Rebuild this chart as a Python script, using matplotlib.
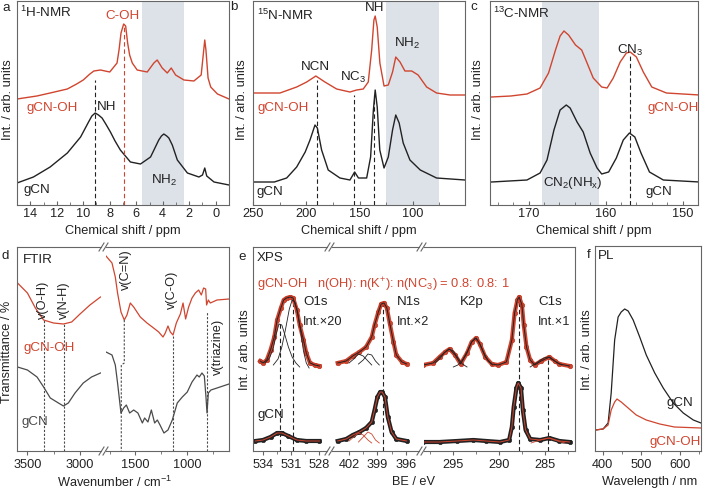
import matplotlib
matplotlib.use("Agg")
import matplotlib.pyplot as plt
from matplotlib.lines import Line2D
from matplotlib.ticker import MultipleLocator, FixedLocator

plt.rcParams['font.family'] = ['Liberation Sans', 'DejaVu Sans']
plt.rcParams['mathtext.fontset'] = 'custom'
plt.rcParams['mathtext.rm'] = 'Liberation Sans'
plt.rcParams['mathtext.it'] = 'Liberation Sans:italic'
plt.rcParams['font.size'] = 9.2

# ---------------- data ----------------
# (a) 1H NMR
a_ppm_oh = [15, 13.5, 12.5, 11.2, 10.5, 10.0, 9.5, 9.2, 8.7, 8.0, 7.45, 7.3, 7.15, 6.95, 6.8, 6.65, 6.5, 6.3,
            5.93, 5.17, 4.67, 4.42, 4.04, 3.66, 3.36, 3.03, 2.4, 1.65, 1.1, 0.93, 0.83, 0.74, 0.58, 0.38,
            -0.13, -1.0]
a_int_oh = [106, 109, 112, 116, 121, 125, 131, 134, 135, 133, 142, 155, 172, 181, 179, 162, 150, 142,
            135, 133, 142, 145, 137, 132, 137, 130, 125, 124, 130, 152, 165, 155, 127, 118,
            111, 106]
a_ppm_gcn = [15, 13.76, 12.5, 11.2, 10.2, 9.8, 9.6, 9.35, 9.1, 8.85, 8.58, 8.3, 7.95, 7.6, 7.2, 6.44, 5.68,
             4.92, 4.3, 4.1, 3.92, 3.7, 3.54, 3.28, 2.9, 2.14, 1.27, 1.0, 0.83, 0.68, 0.13, -1.0]
a_int_gcn = [22, 28, 38, 52, 68, 78, 83, 89, 92, 90, 87, 81, 73, 64, 55, 43, 41,
             48, 65, 69, 71, 69, 67, 60, 45, 32, 28, 30, 37, 29, 23, 20]
a_peaks = [9.1, 6.95]

# (b) 15N NMR
b_ppm_oh = [250, 224.7, 209, 199.6, 191, 182.5, 171.5, 159, 152.7, 146.5, 141.8, 138.6, 136.5, 135.3,
            133.4, 130.9, 127, 123, 119, 116, 112, 107.4, 101, 95, 87, 77.7, 65, 51]
b_int_oh = [112, 112, 118, 123, 129, 123, 116, 113, 115, 116, 123, 155, 185, 189,
            178, 142, 119, 120, 133, 148, 143, 134, 134, 130, 118, 112, 110, 110]
b_ppm_gcn = [250, 230, 218.4, 209, 201, 196.5, 191.8, 189.6, 185.6, 179.4, 168.4, 159, 154.6, 151, 143.3,
             139.6, 137, 135.3, 133.4, 131, 127, 123, 119, 116, 112.8, 109, 102.7, 93, 77.7, 51]
b_int_gcn = [23, 23, 27, 38, 53, 65, 80, 77, 55, 35, 27, 25, 33, 27, 27,
             48, 95, 115, 98, 55, 37, 48, 75, 90, 82, 62, 45, 35, 27, 25]
b_peaks = [190, 155, 136]

# (c) 13C NMR
c_ppm_oh = [174.8, 172.3, 170.2, 168.5, 167.4, 166.5, 165.9, 165.4, 164.8, 163.9, 163.1, 162.4, 161.6,
            160.5, 159.8, 159, 158.1, 157.3, 156.8, 156, 155.1, 154, 152.1, 147.8]
c_int_oh = [108, 109, 111, 117, 132, 155, 169, 174, 170, 160, 155, 142, 127,
            118, 117, 127, 143, 152, 153, 148, 133, 118, 112, 110]
c_ppm_gcn = [174.8, 170.2, 168.5, 167.6, 166.7, 165.9, 165.1, 164.6, 163.7, 162.9, 162, 161.1, 160.5,
             159.6, 158.6, 157.7, 156.9, 156.2, 155.4, 154.3, 152.5, 147.8]
c_int_gcn = [23, 25, 32, 45, 75, 95, 100, 97, 83, 73, 52, 37, 31,
             33, 47, 65, 72, 68, 52, 33, 25, 23]
c_peak = 156.8

# (d) FTIR
d_wn_l_oh = [3595, 3500, 3424, 3345, 3250, 3155, 3076, 2996, 2901, 2800]
d_tr_l_oh = [168, 158, 143, 131, 128, 127, 129, 137, 146, 154]
d_wn_l_gcn = [3595, 3500, 3408, 3345, 3281, 3203, 3155, 3108, 3044, 2965, 2886, 2800]
d_tr_l_gcn = [84, 81, 74, 64, 53, 48, 45, 48, 58, 68, 74, 78]
d_wn_r_oh = [1784, 1726, 1694, 1672, 1639, 1607, 1581, 1549, 1516, 1452, 1387, 1323, 1274, 1232, 1210,
             1184, 1161, 1135, 1103, 1064, 1038, 1013, 984, 951, 919, 887, 861, 839, 819, 810, 793,
             774, 709, 593]
d_tr_r_oh = [195, 188, 174, 158, 139, 131, 136, 148, 144, 134, 128, 123, 119, 114, 118,
             125, 119, 116, 128, 137, 148, 132, 144, 153, 158, 161, 156, 163, 162, 146, 151,
             148, 151, 152]
d_wn_r_gcn = [1784, 1726, 1694, 1672, 1639, 1613, 1587, 1555, 1516, 1475, 1432, 1410, 1378, 1345, 1313,
              1287, 1261, 1223, 1184, 1142, 1094, 1045, 997, 951, 903, 881, 855, 832, 816, 806, 793,
              768, 709, 593]
d_tr_r_gcn = [99, 96, 86, 68, 38, 43, 46, 38, 41, 38, 28, 33, 29, 41, 28,
              31, 26, 18, 21, 31, 48, 54, 59, 69, 76, 74, 78, 75, 54, 38, 58,
              61, 63, 67]
d_modes_l = [3345, 3150]
d_modes_r = [1140, 808]

# (e) XPS
e_o1s_be_oh = [534.3, 534.0, 533.6, 533.2, 532.8, 532.5, 532.1, 531.8, 531.5, 531.1, 530.8, 530.4,
               530.1, 529.7, 529.4, 529.0, 528.5, 528.0]
e_o1s_oh = [90, 88, 91, 101, 114, 131, 143, 151, 153, 154, 153, 141, 126, 111, 98, 88, 86, 85]
e_o1s_c1_be = [533.8, 533.3, 532.9, 532.6, 532.3, 532.0, 531.7, 531.3, 530.9, 530.5, 530.1]
e_o1s_c1 = [88, 93, 103, 117, 127, 126, 117, 104, 94, 88, 84]
e_o1s_c2_be = [532.9, 532.4, 532.0, 531.6, 531.2, 530.9, 530.6, 530.3, 530.0, 529.7, 529.4, 529.1]
e_o1s_c2 = [86, 92, 104, 122, 142, 151, 149, 138, 120, 100, 88, 83]
e_o1s_be_gcn = [534.8, 534.0, 533.2, 532.5, 532.0, 531.3, 530.4, 529.4, 528.0]
e_o1s_gcn = [10, 11, 14, 18, 18, 15, 11, 10, 10]

e_n1s_be_oh = [403.2, 402.3, 401.6, 400.9, 400.2, 399.6, 399.3, 398.9, 398.6, 398.3, 398.0, 397.7,
               397.3, 397.0, 396.4, 395.9]
e_n1s_oh = [88, 90, 95, 99, 104, 114, 126, 139, 147, 148, 143, 128, 109, 96, 89, 87]
e_n1s_ca_be = [402.0, 401.5, 401.0, 400.5, 400.0, 399.6]
e_n1s_ca_oh = [88, 92, 97, 95, 90, 86]
e_n1s_cb_be = [401.0, 400.5, 400.0, 399.6, 399.2, 398.8]
e_n1s_cb_oh = [87, 91, 97, 96, 90, 86]
e_n1s_be_gcn = [403.2, 402.3, 401.6, 400.9, 400.2, 399.6, 399.3, 399.0, 398.7, 398.5, 398.2, 397.9,
                397.5, 397.0, 395.9]
e_n1s_gcn = [10, 12, 16, 19, 23, 29, 41, 54, 59, 59, 54, 34, 19, 12, 10]
e_n1s_ca_gcn = [10, 14, 18, 16, 11, 8]
e_n1s_cb_gcn = [9, 14, 19, 17, 11, 8]

e_c1s_be_oh = [298.3, 297.2, 296.5, 295.9, 295.4, 294.8, 294.2, 293.5, 293.0, 292.5, 292.1, 291.5,
               290.8, 290.1, 289.2, 288.6, 288.3, 288.0, 287.8, 287.5, 287.3, 287.0, 286.6, 286.1,
               285.4, 284.5, 283.9, 283.4, 282.3]
e_c1s_oh = [86, 88, 94, 99, 102, 96, 87, 98, 109, 113, 107, 94,
            87, 86, 89, 111, 138, 151, 154, 146, 126, 104, 91, 86,
            90, 94, 90, 87, 85]
e_k1_be = [297.0, 296.5, 296.0, 295.5, 295.0, 294.5, 294.0, 293.5]
e_k1 = [88, 92, 98, 102, 100, 93, 87, 84]
e_k2_be = [295.0, 294.5, 294.0, 293.5, 293.0, 292.6, 292.2, 291.7, 291.2, 290.7]
e_k2 = [84, 86, 91, 99, 109, 113, 109, 99, 90, 86]
e_cc_be = [286.6, 286.1, 285.6, 285.1, 284.6, 284.1, 283.6, 283.1]
e_cc_oh = [84, 87, 90, 93, 94, 91, 88, 86]
e_c1s_be_gcn = [298.3, 296.5, 294.6, 292.8, 291.4, 289.9, 288.9, 288.6, 288.4, 288.1, 287.9, 287.6,
                287.4, 287.1, 286.6, 285.5, 284.5, 283.4, 282.3]
e_c1s_gcn = [9, 9, 10, 11, 10, 9, 11, 24, 44, 63, 68, 63, 41, 21, 12, 11, 13, 10, 9]
e_cc_be_gcn = [286.5, 285.5, 284.6, 283.6, 282.8]
e_cc_gcn = [8, 11, 13, 10, 8]
e_o1s_peaks = [(532.2, 128), (530.8, 153)]
e_n1s_peak = (398.4, 148)
e_c1s_peaks = [(287.85, 154), (284.6, 93)]

# (f) PL
f_wl_gcn = [381, 401, 414, 422, 431, 440, 448, 457, 466, 479, 496, 513, 535, 557, 583, 609, 635, 655]
f_gcn = [21, 22, 28, 58, 111, 134, 139, 142, 140, 131, 114, 96, 78, 63, 48, 38, 31, 28]
f_wl_oh = [381, 401, 414, 422, 431, 437, 448, 466, 487, 513, 548, 586, 655]
f_oh = [21, 22, 26, 41, 49, 52, 49, 43, 36, 31, 27, 24, 23]

# ---------------- style ----------------
W, H = 703, 491
RED = '#d0452f'
BLK = '#222222'
GRY = '#4a4a4a'
SPN = '#666666'
SHADE = '#dde2e9'
FS_IN = 9.6

fig = plt.figure(figsize=(W / 100, H / 100), dpi=100)


def rect(x0, y0, x1, y1):
    return [x0 / W, 1 - y1 / H, (x1 - x0) / W, (y1 - y0) / H]


def mk(x0, y0, x1, y1, row, hide=()):
    ax = fig.add_axes(rect(x0, y0, x1, y1))
    for k, s in ax.spines.items():
        s.set_color(SPN)
        s.set_linewidth(0.8)
        if k in hide:
            s.set_visible(False)
    ax.set_yticks([])
    if row == 1:
        ax.tick_params(axis='x', which='major', direction='in', length=3, width=0.8, pad=2.5,
                       colors=SPN, labelcolor=BLK, labelsize=9.2)
        ax.tick_params(axis='x', which='minor', direction='in', length=2, width=0.6, colors=SPN)
    else:
        ax.tick_params(axis='x', which='major', direction='out', length=3, width=0.8, pad=3,
                       colors=SPN, labelcolor=BLK, labelsize=9.2)
        ax.tick_params(axis='x', which='minor', direction='out', length=2, width=0.6, colors=SPN)
    ax.set_ylim(0, 204)
    return ax


def T(x, y, s, ha='center', va='center', color=BLK, size=9.2, rot=0):
    fig.text(x / W, 1 - y / H, s, ha=ha, va=va, color=color, fontsize=size, rotation=rot)


def brk(xc, yc):
    for dx in (-2, 2):
        fig.add_artist(Line2D([(xc + dx - 2.5) / W, (xc + dx + 2.5) / W],
                              [1 - (yc + 4) / H, 1 - (yc - 4) / H], color=SPN, lw=0.8))


DASH = (0, (4, 2.5))

# ---------------- (a) ----------------
ax = mk(17, 1, 229, 205, 1)
ax.set_xlim(15, -1)
ax.xaxis.set_major_locator(MultipleLocator(2))
ax.xaxis.set_minor_locator(MultipleLocator(1))
ax.axvspan(5.55, 2.37, color=SHADE, lw=0, zorder=0)
ax.plot(a_ppm_oh, a_int_oh, color=RED, lw=1.0)
ax.plot(a_ppm_gcn, a_int_gcn, color=BLK, lw=1.0)
ax.vlines(a_peaks[0], 0, 125, colors=BLK, linestyles=DASH, lw=0.8)
ax.vlines(a_peaks[1], 0, 179, colors=RED, linestyles=DASH, lw=0.8)

# ---------------- (b) ----------------
ax = mk(253, 1, 465, 205, 1)
ax.set_xlim(250, 51)
ax.xaxis.set_major_locator(FixedLocator([250, 200, 150, 100]))
ax.xaxis.set_minor_locator(FixedLocator([225, 175, 125, 75]))
ax.axvspan(125, 75, color=SHADE, lw=0, zorder=0)
ax.plot(b_ppm_oh, b_int_oh, color=RED, lw=1.0)
ax.plot(b_ppm_gcn, b_int_gcn, color=BLK, lw=1.0)
ax.vlines(b_peaks[0], 0, 125, colors=BLK, linestyles=DASH, lw=0.8)
ax.vlines(b_peaks[1], 0, 110, colors=BLK, linestyles=DASH, lw=0.8)
ax.vlines(b_peaks[2], 0, 110, colors=BLK, linestyles=DASH, lw=0.8)

# ---------------- (c) ----------------
ax = mk(490, 1, 698, 205, 1)
ax.set_xlim(175, 148)
ax.xaxis.set_major_locator(MultipleLocator(10))
ax.xaxis.set_minor_locator(MultipleLocator(2))
ax.axvspan(168.2, 160.8, color=SHADE, lw=0, zorder=0)
ax.plot(c_ppm_oh, c_int_oh, color=RED, lw=1.0)
ax.plot(c_ppm_gcn, c_int_gcn, color=BLK, lw=1.0)
ax.vlines(c_peak, 0, 150, colors=BLK, linestyles=DASH, lw=0.8)

# ---------------- (d) ----------------
DOT = (0, (2, 1.5))
ax1 = mk(17, 247, 101, 451, 2, hide=('right',))
ax1.set_xlim(3600, 2795)
ax1.xaxis.set_major_locator(FixedLocator([3500, 3000]))
ax1.xaxis.set_minor_locator(FixedLocator([3250]))
ax1.plot(d_wn_l_oh, d_tr_l_oh, color=RED, lw=0.9)
ax1.plot(d_wn_l_gcn, d_tr_l_gcn, color=GRY, lw=0.9)
ax1.vlines(d_modes_l[0], 0, 131, colors=GRY, linestyles=DOT, lw=0.8)
ax1.vlines(d_modes_l[1], 0, 127, colors=GRY, linestyles=DOT, lw=0.8)

ax2 = mk(106, 247, 229, 451, 2, hide=('left',))
ax2.set_xlim(1784, 593)
ax2.xaxis.set_major_locator(FixedLocator([1500, 1000]))
ax2.xaxis.set_minor_locator(FixedLocator([1750, 1250, 750]))
ax2.plot(d_wn_r_oh, d_tr_r_oh, color=RED, lw=0.9)
ax2.plot(d_wn_r_gcn, d_tr_r_gcn, color=GRY, lw=0.9)
ax2.plot([1607, 1607, 1636, 1636], [131, 88, 86, 0], color=GRY, ls=DOT, lw=0.8)
ax2.vlines(d_modes_r[0], 0, 116, colors=GRY, linestyles=DOT, lw=0.8)
ax2.vlines(d_modes_r[1], 0, 140, colors=GRY, linestyles=DOT, lw=0.8)
brk(103.5, 247)
brk(103.5, 451)


# ---------------- (e) ----------------
def data_red(ax, x, y):
    ax.plot(x, y, color=RED, lw=3.0, marker='o', ms=3.3, mfc=RED, mec='#b8321f', mew=0.4, zorder=2)
    ax.plot(x, y, color=BLK, lw=0.7, zorder=3)


def data_blk(ax, x, y):
    ax.plot(x, y, color=BLK, lw=3.0, marker='o', ms=3.2, mfc=BLK, mec=BLK, mew=0.4, zorder=2)
    ax.plot(x, y, color=RED, lw=0.7, zorder=3)


e1 = mk(253, 247, 327, 451, 2, hide=('right',))
e1.set_xlim(535.06, 527.2)
e1.xaxis.set_major_locator(FixedLocator([534, 531, 528]))
e1.xaxis.set_minor_locator(FixedLocator([532.5, 529.5]))
data_red(e1, e_o1s_be_oh, e_o1s_oh)
e1.plot(e_o1s_c1_be, e_o1s_c1, color=BLK, lw=0.6, zorder=3)
e1.plot(e_o1s_c2_be, e_o1s_c2, color=BLK, lw=0.6, zorder=3)
data_blk(e1, e_o1s_be_gcn, e_o1s_gcn)
for xp, yp in e_o1s_peaks:
    e1.vlines(xp, 0, yp, colors=BLK, linestyles=DASH, lw=0.8, zorder=1)

e2 = mk(332, 247, 419, 451, 2, hide=('left', 'right'))
e2.set_xlim(403.8, 394.6)
e2.xaxis.set_major_locator(FixedLocator([402, 399, 396]))
e2.xaxis.set_minor_locator(FixedLocator([400.5, 397.5]))
data_red(e2, e_n1s_be_oh, e_n1s_oh)
e2.plot(e_n1s_ca_be, e_n1s_ca_oh, color=BLK, lw=0.6, zorder=3)
e2.plot(e_n1s_cb_be, e_n1s_cb_oh, color=BLK, lw=0.6, zorder=3)
data_blk(e2, e_n1s_be_gcn, e_n1s_gcn)
e2.plot(e_n1s_ca_be, e_n1s_ca_gcn, color=RED, lw=0.6, zorder=3)
e2.plot(e_n1s_cb_be, e_n1s_cb_gcn, color=RED, lw=0.6, zorder=3)
e2.vlines(e_n1s_peak[0], 0, e_n1s_peak[1], colors=BLK, linestyles=DASH, lw=0.8, zorder=1)

e3 = mk(424, 247, 575, 451, 2, hide=('left',))
e3.set_xlim(298.2, 281.7)
e3.xaxis.set_major_locator(FixedLocator([295, 290, 285]))
e3.xaxis.set_minor_locator(FixedLocator([297.5, 292.5, 287.5, 282.5]))
data_red(e3, e_c1s_be_oh, e_c1s_oh)
e3.plot(e_k1_be, e_k1, color=BLK, lw=0.6, zorder=3)
e3.plot(e_k2_be, e_k2, color=BLK, lw=0.6, zorder=3)
e3.plot(e_cc_be, e_cc_oh, color=BLK, lw=0.6, zorder=3)
data_blk(e3, e_c1s_be_gcn, e_c1s_gcn)
e3.plot(e_cc_be_gcn, e_cc_gcn, color=RED, lw=0.6, zorder=3)
for xp, yp in e_c1s_peaks:
    e3.vlines(xp, 0, yp, colors=BLK, linestyles=DASH, lw=0.8, zorder=1)
brk(329.5, 247)
brk(329.5, 451)
brk(421.5, 247)
brk(421.5, 451)

# ---------------- (f) ----------------
axf = mk(595, 246, 701, 451, 2)
axf.set_xlim(380, 655)
axf.set_ylim(0, 205)
axf.xaxis.set_major_locator(MultipleLocator(100))
axf.xaxis.set_minor_locator(MultipleLocator(50))
axf.plot(f_wl_gcn, f_gcn, color=BLK, lw=0.9)
axf.plot(f_wl_oh, f_oh, color=RED, lw=0.9)

# ---------------- texts ----------------
SUB = lambda s: r'$\mathregular{' + s + '}$'
# a
T(6, 8, 'a', size=FS_IN)
T(20, 12, SUB('^{1}') + 'H-NMR', ha='left', size=FS_IN)
T(123, 16, 'C-OH', color=RED, size=FS_IN)
T(52, 108, 'gCN-OH', color=RED, size=FS_IN)
T(107, 107, 'NH', size=FS_IN)
T(37, 190, 'gCN', size=FS_IN)
T(164, 180, 'NH' + SUB('_{2}'), size=FS_IN)
# b
T(234, 7, 'b', size=FS_IN)
T(257, 15, SUB('^{15}') + 'N-NMR', ha='left', size=FS_IN)
T(315, 67, 'NCN', size=FS_IN)
T(353, 77, 'NC' + SUB('_{3}'), size=FS_IN)
T(375, 8, 'NH', size=FS_IN)
T(407, 43, 'NH' + SUB('_{2}'), size=FS_IN)
T(283, 108, 'gCN-OH', color=RED, size=FS_IN)
T(270, 192, 'gCN', size=FS_IN)
# c
T(474, 7, 'c', size=FS_IN)
T(493, 13, SUB('^{13}') + 'C-NMR', ha='left', size=FS_IN)
T(630, 50, 'CN' + SUB('_{3}'), size=FS_IN)
T(673, 108, 'gCN-OH', color=RED, size=FS_IN)
T(573, 183, 'CN' + SUB('_{2}') + '(NH' + SUB('_{x}') + ')', size=FS_IN)
T(659, 192, 'gCN', size=FS_IN)
# d
T(5, 256, 'd', size=FS_IN)
T(23, 260, 'FTIR', ha='left', size=FS_IN)
T(49, 348, 'gCN-OH', color=RED, size=FS_IN)
T(35, 422, 'gCN', color=GRY, size=FS_IN)
T(43, 300, 'v(O-H)', rot=90, size=9.2)
T(64, 300, 'v(N-H)', rot=90, size=9.2)
T(126, 270, 'v(C=N)', rot=90, size=9.2)
T(172, 290, 'v(C-O)', rot=90, size=9.2)
T(218, 347, 'v(triazine)', rot=90, size=9.2)
# e
T(242, 257, 'e', size=FS_IN)
T(257, 258, 'XPS', ha='left', size=FS_IN)
T(257, 285, 'gCN-OH   n(OH): n(K' + SUB('^{+}') + '): n(NC' + SUB('_{3}') + ') = 0.8: 0.8: 1',
  ha='left', color=RED, size=9.3)
T(303, 302, 'O1s', ha='left', size=FS_IN)
T(303, 322, 'Int.\u00d720', ha='left', size=9.2)
T(397, 302, 'N1s', ha='left', size=FS_IN)
T(397, 322, 'Int.\u00d72', ha='left', size=9.2)
T(460, 302, 'K2p', ha='left', size=FS_IN)
T(538, 302, 'C1s', ha='left', size=FS_IN)
T(538, 322, 'Int.\u00d71', ha='left', size=9.2)
T(257, 415, 'gCN', ha='left', size=FS_IN)
# f
T(589, 255, 'f', size=FS_IN)
T(598, 256, 'PL', ha='left', size=FS_IN)
T(680, 403, 'gCN', size=FS_IN)
T(675, 442, 'gCN-OH', color=RED, size=FS_IN)

# axis labels
for xc in (123, 359, 594):
    T(xc, 231, 'Chemical shift / ppm')
T(115, 482, 'Wavenumber / cm' + SUB('^{-1}'))
T(414, 482, 'BE / eV')
T(650, 482, 'Wavelength / nm')
T(8, 100, 'Int. / arb. units', rot=90)
T(242, 100, 'Int. / arb. units', rot=90)
T(478, 100, 'Int. / arb. units', rot=90)
T(7, 352, 'Transmittance / %', rot=90)
T(245, 350, 'Int. / arb. units', rot=90)
T(587, 350, 'Int. / arb. units', rot=90)

fig.savefig('out.png', dpi=100)
